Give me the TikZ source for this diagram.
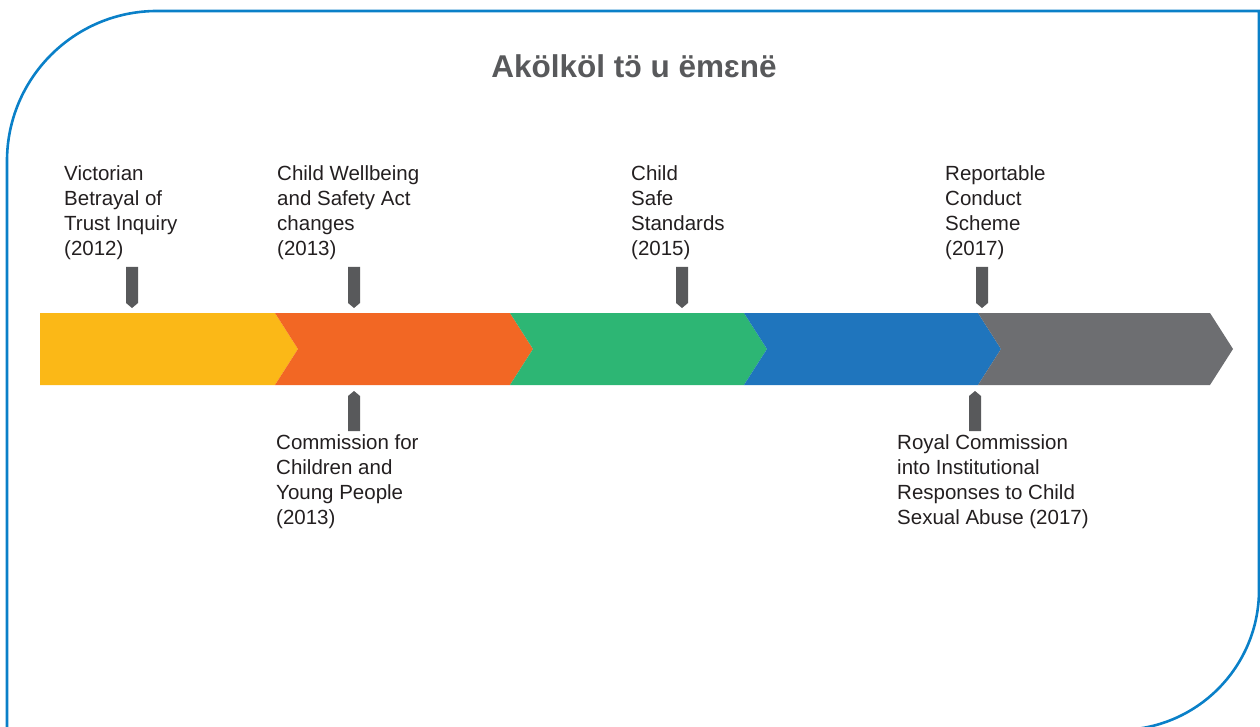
\documentclass[tikz,border=0pt]{standalone}
\usepackage{fontspec}
\setmainfont{Liberation Sans}
\definecolor{frameblue}{HTML}{0A80C8}
\definecolor{cyellow}{HTML}{FBB817}
\definecolor{corange}{HTML}{F26724}
\definecolor{cgreen}{HTML}{2DB674}
\definecolor{cblue}{HTML}{1F75BD}
\definecolor{cgray}{HTML}{6D6E71}
\definecolor{markgray}{HTML}{58595B}
\definecolor{titlegray}{HTML}{58595B}
\definecolor{textblack}{HTML}{231F20}
\begin{document}
\begin{tikzpicture}[x=1pt,y=-1pt,
  frame/.style={draw=frameblue,line width=2.6pt},
  marker/.style={fill=markgray,draw=none},
  label/.style={anchor=north west,inner sep=0pt,align=left,text=textblack,
    font=\fontsize{20.5}{25}\selectfont},
  titletext/.style={inner sep=0pt,text=titlegray,font=\fontsize{31.5}{36}\selectfont\bfseries}]
\useasboundingbox (0,0) rectangle (1260,727);
\clip (0,0) rectangle (1260,727);
% frame
\draw[frame] (7,740) -- (7,161) .. controls (7,78.2) and (74.2,11) .. (157,11)
  -- (1259,11) -- (1259,590) .. controls (1259,667.3) and (1196.3,730) .. (1119,730) -- (1000,730);
% title
\node[titletext] (title) at (634,66) {Akölköl tɔ̈ u ëmɛnë};
% chevrons
\fill[cyellow] (40,313) -- (275,313) -- (298,349) -- (275,385) -- (40,385) -- cycle;
\fill[corange] (275,313) -- (510,313) -- (533,349) -- (510,385) -- (275,385) -- (298,349) -- cycle;
\fill[cgreen] (510,313) -- (744,313) -- (767,349) -- (744,385) -- (510,385) -- (533,349) -- cycle;
\fill[cblue] (744,313) -- (978,313) -- (1001,349) -- (978,385) -- (744,385) -- (767,349) -- cycle;
\fill[cgray] (978,313) -- (1210,313) -- (1233,349) -- (1210,385) -- (978,385) -- (1001,349) -- cycle;
% top markers
\foreach \mx in {132,354,682,982}{
  \fill[marker] (\mx-6,267) -- (\mx+6,267) -- (\mx+6,303) -- (\mx,308) -- (\mx-6,303) -- cycle;}
% bottom markers
\foreach \mx in {354,975}{
  \fill[marker] (\mx-6,431) -- (\mx-6,396) -- (\mx,391) -- (\mx+6,396) -- (\mx+6,431) -- cycle;}
% labels
\node[label] (l2012) at (64,165) {Victorian\\Betrayal of\\Trust Inquiry\\(2012)};
\node[label] (l2013a) at (277,165) {Child Wellbeing\\and Safety Act\\changes\\(2013)};
\node[label] (l2015) at (631,165) {Child\\Safe\\Standards\\(2015)};
\node[label] (l2017a) at (945,165) {Reportable\\Conduct\\Scheme\\(2017)};
\node[label] (l2013b) at (276,434) {Commission for\\Children and\\Young People\\(2013)};
\node[label] (l2017b) at (897,434) {Royal Commission\\into Institutional\\Responses to Child\\Sexual Abuse (2017)};
\end{tikzpicture}
\end{document}
